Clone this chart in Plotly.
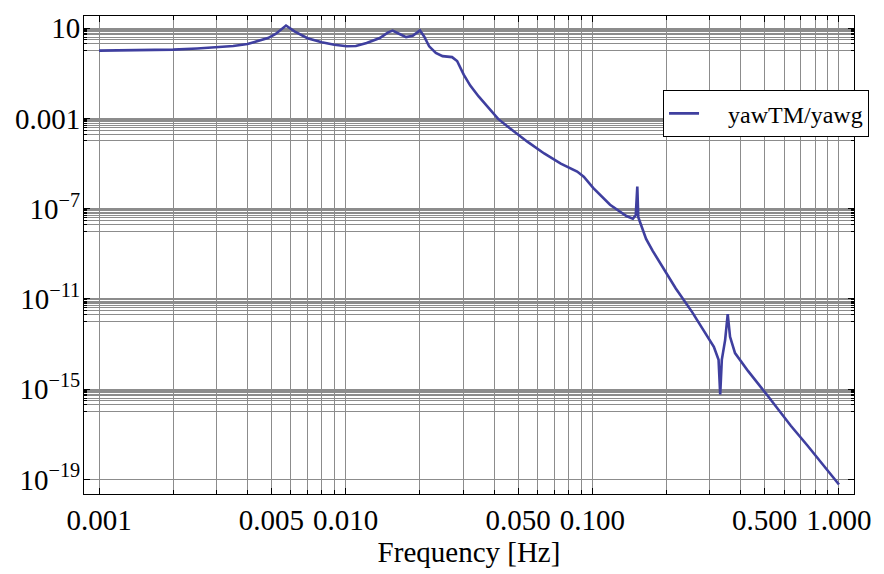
import plotly.graph_objects as go

# Transfer-function magnitude |yawTM / yawg| versus frequency
freq_hz = [
    0.001, 0.0015, 0.002, 0.0025, 0.003, 0.0035, 0.004, 0.0045, 0.00484,
    0.0052, 0.0054, 0.00573, 0.0062, 0.0066, 0.007, 0.008, 0.009, 0.0101,
    0.0110, 0.01216, 0.01375, 0.01486, 0.0155, 0.01653, 0.01758, 0.0187,
    0.0200, 0.0208, 0.0218, 0.0232, 0.0247, 0.0270, 0.0283, 0.0301, 0.0320,
    0.0346, 0.0379, 0.0415, 0.0463, 0.0547, 0.0638, 0.0745, 0.0868, 0.0923,
    0.101, 0.118, 0.1375, 0.146, 0.150, 0.1522, 0.1536, 0.1652, 0.1757,
    0.218, 0.254, 0.296, 0.311, 0.325, 0.330, 0.335, 0.3455, 0.354, 0.3618,
    0.379, 0.4285, 0.515, 0.638, 0.745, 0.867, 1.0,
]
magnitude = [
    1.01, 1.06, 1.12, 1.26, 1.43, 1.62, 1.99, 2.8, 3.64,
    5.5, 7.6, 13.1, 7.2, 5.2, 3.6, 2.4, 1.85, 1.57,
    1.62, 2.2, 3.64, 6.5, 7.8, 5.5, 4.0, 4.6,
    8.0, 4.3, 1.57, 0.80, 0.575, 0.52, 0.35, 0.087, 0.0286,
    9.4e-3, 3.1e-3, 9.5e-4, 3.7e-4, 9.1e-5, 2.8e-5, 1.0e-5, 4.4e-6, 2.6e-6,
    8.1e-7, 1.5e-7, 4.7e-8, 3.6e-8, 5.1e-8, 9.5e-7, 4.2e-8, 4.6e-9, 1.35e-9,
    2.9e-11, 2.6e-12, 1.9e-13, 7.6e-14, 2.0e-14, 5.9e-16, 2.0e-14, 1.5e-13, 2.1e-12, 2.1e-13,
    4.0e-14, 6.3e-15, 5.0e-16, 2.4e-17, 3.2e-18, 4.2e-19, 6.0e-20,
]

x_tick_vals = [0.001, 0.005, 0.01, 0.05, 0.1, 0.5, 1.0]
x_tick_text = ["0.001", "0.005", "0.010", "0.050", "0.100", "0.500", "1.000"]
y_tick_vals = [1e1, 1e-3, 1e-7, 1e-11, 1e-15, 1e-19]
y_tick_text = ["10", "0.001", "10<sup>−7</sup>", "10<sup>−11</sup>",
               "10<sup>−15</sup>", "10<sup>−19</sup>"]

# grid positions: every integer multiple per decade on x,
# a decade of lines below each labelled power on y
x_grid = [m * 10.0 ** k for k in (-3, -2, -1) for m in range(1, 10)] + [1.0]
y_grid = [m * 10.0 ** (e - 1) for e in (1, -3, -7, -11, -15) for m in range(1, 11)] + [1e-19]

serif = "Liberation Serif"
grid_col = "#8c8c8c"

fig = go.Figure()
fig.add_trace(go.Scatter(
    x=freq_hz, y=magnitude, mode="lines",
    name="\u00a0\u00a0\u00a0\u00a0yawTM/yawg",
    line=dict(color="#3f3f9f", width=2.6),
))

fig.update_layout(
    width=884, height=574,
    margin=dict(l=84, r=20, t=13, b=78),
    paper_bgcolor="white", plot_bgcolor="white",
    font=dict(family=serif, size=29, color="black"),
    showlegend=True,
    legend=dict(
        x=0.752, y=0.8447, xanchor="left", yanchor="top",
        bgcolor="white", bordercolor="black", borderwidth=1,
        font=dict(family=serif, size=24, color="black"),
    ),
)

fig.update_xaxes(
    type="log", range=[-3.061, 0.061],
    tickmode="array", tickvals=x_tick_vals, ticktext=x_tick_text,
    tickfont=dict(family=serif, size=29, color="black"),
    ticks="inside", ticklen=6, tickcolor="black", tickwidth=1,
    showline=True, linecolor="black", linewidth=1, mirror="ticks",
    showgrid=True, gridcolor=grid_col, gridwidth=1.2,
    ticklabelstandoff=0,
    minor=dict(tickmode="array", tickvals=x_grid, ticks="inside", ticklen=4,
               tickcolor="black", showgrid=True, gridcolor=grid_col, gridwidth=1.2),
    title=dict(text="Frequency [Hz]", font=dict(family=serif, size=29, color="black"), standoff=6),
    zeroline=False,
)
fig.update_yaxes(
    type="log", range=[-19.645, 1.539],
    tickmode="array", tickvals=y_tick_vals, ticktext=y_tick_text,
    tickfont=dict(family=serif, size=29, color="black"),
    ticks="inside", ticklen=6, tickcolor="black", tickwidth=1,
    showline=True, linecolor="black", linewidth=1, mirror="ticks",
    showgrid=True, gridcolor=grid_col, gridwidth=1.2,
    ticklabelstandoff=-3,
    minor=dict(tickmode="array", tickvals=y_grid, ticks="inside", ticklen=3,
               tickcolor="black", showgrid=True, gridcolor=grid_col, gridwidth=1.2),
    zeroline=False,
)

fig.write_html("out.html")
